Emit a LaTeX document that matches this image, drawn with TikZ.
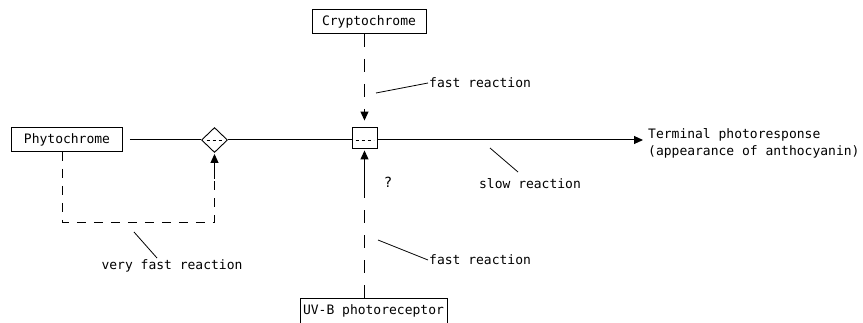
\documentclass[tikz,border=0pt]{standalone}
\usepackage{fontspec}
\setmonofont{DejaVu Sans Mono}
\usetikzlibrary{arrows.meta,shapes.geometric}
\begin{document}
\begin{tikzpicture}[x=1pt,y=-1pt,
  every node/.style={font=\ttfamily\fontsize{13}{16}\selectfont},
  box/.style={draw,line width=0.9pt,rectangle,inner sep=0pt,minimum height=24pt},
  conn/.style={line width=1pt},
  dsh/.style={line width=1pt,dash pattern=on 13pt off 12pt},
  tip/.style={-{Triangle[length=9pt,width=8pt]}},
  lead/.style={line width=0.8pt},
  lbl/.style={inner sep=1pt}]
\useasboundingbox (0,0) rectangle (863,323);
% boxes
\node[box,minimum width=111pt] (phy) at (67,139.5) {Phytochrome};
\node[box,minimum width=114pt] (cry) at (369,21.5) {Cryptochrome};
\node[box,minimum width=147pt,minimum height=26pt] (uvb) at (373.5,311) {UV-B photoreceptor};
% junctions
\node[draw,line width=0.9pt,diamond,minimum width=26pt,minimum height=25pt,inner sep=0pt] (dia) at (214.5,140) {};
\node[draw,line width=0.9pt,rectangle,minimum width=25pt,minimum height=21pt,inner sep=0pt] (sq) at (364.5,137.5) {};
\draw[line width=0.8pt,dash pattern=on 3pt off 3pt] ([xshift=-8pt]dia.center) -- ([xshift=8pt]dia.center);
\draw[line width=0.8pt,dash pattern=on 3pt off 3pt] ([xshift=-9pt,yshift=-2.5pt]sq.center) -- ([xshift=9pt,yshift=-2.5pt]sq.center);
% terminal text
\node[anchor=west,align=left,inner sep=0pt,font=\ttfamily\fontsize{13}{17}\selectfont] (term) at (648,143) {Terminal photoresponse\\(appearance of anthocyanin)};
\coordinate (tipT) at (643,140);
% main line
\draw[conn] ([xshift=7pt]phy.east |- dia.west) -- (dia.west);
\draw[conn] (dia.east) -- (sq.west |- dia.east);
\draw[conn,tip] (sq.east |- dia.east) -- (tipT);
% cryptochrome arrow
\draw[dsh,tip] (sq.north |- cry.south) -- ([yshift=6pt]sq.north);
% uv-b arrow
\coordinate (uvmid) at (364.5,197);
\draw[dsh] (sq.south |- uvb.north) -- (uvmid);
\draw[conn,tip] (uvmid) -- ([yshift=-2pt]sq.south);
% phytochrome loop
\coordinate (c1) at (62,222);
\coordinate (c2) at (214.5,222);
\draw[line width=0.9pt,dash pattern=on 9pt off 8pt] (phy.south -| c1) -- (c1) -- (c2) -- ([yshift=-22pt]dia.south);
\draw[conn,tip] ([yshift=-26pt]dia.south) -- ([yshift=-1pt]dia.south);
% labels
\node[lbl,anchor=west] (f1) at (428,83) {fast reaction};
\draw[lead] (376,93) -- (f1.west);
\node[lbl,anchor=west] (f2) at (428,260) {fast reaction};
\draw[lead] (378,240) -- (f2.west);
\node[lbl] (slow) at (530,184) {slow reaction};
\draw[lead] (490,148) -- (518,172);
\node[lbl] (vf) at (172,266) {very fast reaction};
\draw[lead] (134,232) -- (157,258);
\node[lbl,font=\ttfamily\fontsize{14}{16}\selectfont] (q) at (388,182) {?};
\end{tikzpicture}
\end{document}
